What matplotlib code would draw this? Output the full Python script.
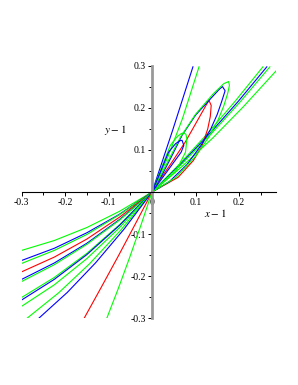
import matplotlib
matplotlib.use("Agg")
from matplotlib import pyplot as plt

plt.rcParams['font.family'] = ['Liberation Serif', 'DejaVu Serif']
plt.rcParams['mathtext.fontset'] = 'stix'
plt.rcParams['axes.unicode_minus'] = False

# branches in the lower-left quadrant
xl = [-0.3, -0.225, -0.15, -0.075, 0.0]
g1_y = [-0.139, -0.1155, -0.0845, -0.046, 0.0]
b1_y = [-0.163, -0.134, -0.097, -0.053, 0.0]
g2_y = [-0.170, -0.139, -0.101, -0.054, 0.0]
r1_y = [-0.190, -0.155, -0.112, -0.060, 0.0]
b2_y = [-0.208, -0.169, -0.122, -0.0655, 0.0]
g3_y = [-0.213, -0.173, -0.1245, -0.067, 0.0]
g4_y = [-0.251, -0.2035, -0.146, -0.078, 0.0]
b3_y = [-0.257, -0.208, -0.149, -0.0795, 0.0]
g5_y = [-0.272, -0.221, -0.1585, -0.085, 0.0]

g6_x = [-0.287, -0.215, -0.1435, -0.072, 0.0]
g6_y = [-0.3, -0.240, -0.1705, -0.0907, 0.0]
b4_x = [-0.26, -0.195, -0.13, -0.065, 0.0]
b4_y = [-0.3, -0.239, -0.1686, -0.089, 0.0]
r2_x = [-0.156, -0.117, -0.078, -0.039, 0.0]
r2_y = [-0.3, -0.227, -0.153, -0.077, 0.0]
g7_x = [-0.104, -0.078, -0.052, -0.026, 0.0]
g7_y = [-0.3, -0.2305, -0.157, -0.080, 0.0]

# upper-right quadrant
bs_x = [0.0, 0.047, 0.094]
bs_y = [0.0, 0.146, 0.298]
gs_x = [0.0, 0.035, 0.07, 0.108]
gs_y = [0.0, 0.08, 0.175, 0.298]

gb1_x = [0.0, 0.064, 0.1275, 0.191, 0.255]
gb1_y = [0.0, 0.0675, 0.139, 0.216, 0.298]
bb_x = [0.0, 0.066, 0.132, 0.198, 0.264]
bb_y = [0.0, 0.0666, 0.1385, 0.2155, 0.298]
gb2_x = [0.0, 0.0678, 0.1355, 0.203, 0.271]
gb2_y = [0.0, 0.066, 0.138, 0.215, 0.298]
gb3_x = [0.0, 0.07, 0.14, 0.21, 0.285]
gb3_y = [0.0, 0.0617, 0.129, 0.203, 0.288]

# loops: out along the upper side, back along the lower side
rl_x = [0.0, 0.015, 0.045, 0.077, 0.107, 0.125, 0.131, 0.136, 0.134, 0.128, 0.115, 0.095, 0.06, 0.0]
rl_y = [0.0, 0.025, 0.070, 0.120, 0.175, 0.208, 0.218, 0.206, 0.180, 0.150, 0.110, 0.075, 0.035, 0.0]
bl_x = [0.0, 0.023, 0.045, 0.069, 0.100, 0.138, 0.155, 0.162, 0.168, 0.160, 0.150, 0.135, 0.112, 0.08, 0.04, 0.0]
bl_y = [0.0, 0.041, 0.085, 0.135, 0.183, 0.226, 0.245, 0.251, 0.241, 0.215, 0.185, 0.150, 0.110, 0.065, 0.025, 0.0]
gl_x = [0.0, 0.03, 0.065, 0.100, 0.140, 0.165, 0.176, 0.178, 0.174, 0.165, 0.152, 0.13, 0.10, 0.055, 0.0]
gl_y = [0.0, 0.06, 0.130, 0.185, 0.233, 0.258, 0.263, 0.254, 0.235, 0.205, 0.172, 0.13, 0.085, 0.035, 0.0]
gsl_x = [0.0, 0.042, 0.057, 0.067, 0.073, 0.078, 0.080, 0.077, 0.054, 0.0]
gsl_y = [0.0, 0.111, 0.131, 0.139, 0.141, 0.137, 0.127, 0.095, 0.048, 0.0]
bsl_x = [0.0, 0.038, 0.054, 0.064, 0.069, 0.073, 0.067, 0.0]
bsl_y = [0.0, 0.095, 0.115, 0.122, 0.123, 0.111, 0.095, 0.0]

RED = '#ff0000'
BLUE = '#0000ff'
GREEN = '#00ff00'

curves = [
    (xl, g1_y, GREEN), (xl, b1_y, BLUE), (xl, g2_y, GREEN), (xl, r1_y, RED),
    (xl, b2_y, BLUE), (xl, g3_y, GREEN), (xl, g4_y, GREEN), (xl, b3_y, BLUE),
    (xl, g5_y, GREEN),
    (g6_x, g6_y, GREEN), (b4_x, b4_y, BLUE), (r2_x, r2_y, RED), (g7_x, g7_y, GREEN),
    (bs_x, bs_y, BLUE), (gs_x, gs_y, GREEN),
    (gb1_x, gb1_y, GREEN), (bb_x, bb_y, BLUE), (gb2_x, gb2_y, GREEN), (gb3_x, gb3_y, GREEN),
    (rl_x, rl_y, RED), (bl_x, bl_y, BLUE), (gl_x, gl_y, GREEN),
    (gsl_x, gsl_y, GREEN), (bsl_x, bsl_y, BLUE),
]

fig = plt.figure(figsize=(2.98, 3.85), dpi=100)
ax = fig.add_axes([0.0728, 0.174, 0.8532, 0.6546])

for xs, ys, c in curves:
    ax.plot(xs, ys, color=c, lw=0.8, solid_joinstyle='round')

ax.set_xlim(-0.3, 0.285)
ax.set_ylim(-0.3, 0.3)

ax.spines['left'].set_position(('data', 0))
ax.spines['bottom'].set_position(('data', 0))
ax.spines['top'].set_visible(False)
ax.spines['right'].set_visible(False)
ax.spines['left'].set_color('#999999')
ax.spines['left'].set_linewidth(2)
ax.spines['bottom'].set_linewidth(0.8)

ax.set_xticks([-0.3, -0.2, -0.1, 0, 0.1, 0.2])
ax.set_xticklabels(['-0.3', '-0.2', '-0.1', '0', '0.1', '0.2'])
ax.set_xticks([-0.25, -0.15, -0.05, 0.05, 0.15, 0.25], minor=True)
ax.set_yticks([-0.3, -0.2, -0.1, 0.1, 0.2, 0.3])
ax.set_yticklabels(['-0.3', '-0.2', '-0.1', '0.1', '0.2', '0.3'])
ax.set_yticks([-0.25, -0.15, -0.05, 0.05, 0.15, 0.25], minor=True)
ax.tick_params(which='both', direction='out', labelsize=7, width=0.7, color='black', pad=1.5)
ax.tick_params(which='major', length=3)
ax.tick_params(which='minor', length=2)

ax.text(0.145, -0.05, r'$x-1$', fontsize=8, ha='center', va='center')
ax.text(-0.085, 0.148, r'$y-1$', fontsize=8, ha='center', va='center')

fig.savefig('out.png', dpi=100)
